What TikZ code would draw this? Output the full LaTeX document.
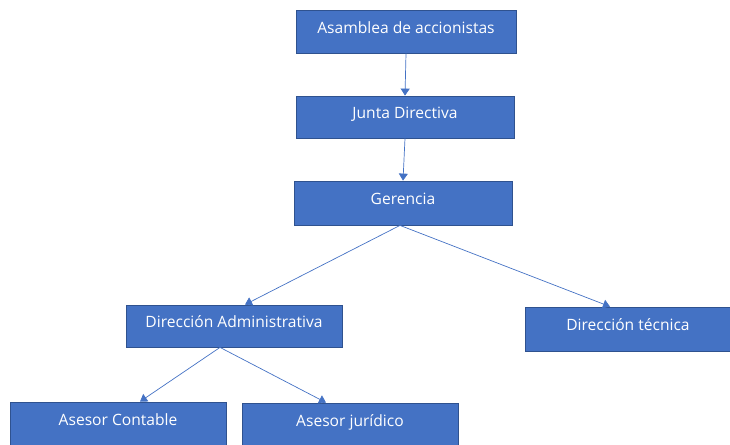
\documentclass[tikz,border=0pt]{standalone}
\usepackage{fontspec}
\setmainfont{Open Sans}
\usetikzlibrary{positioning,arrows.meta,calc}
\definecolor{boxblue}{HTML}{4472C4}
\definecolor{edgeblue}{HTML}{2F528F}

\begin{document}
\begin{tikzpicture}[
x=1pt, y=-1pt,
orgbox/.style={
  rectangle,
  fill=boxblue,
  draw=edgeblue,
  line width=0.8pt,
  text=white,
  font=\fontsize{15.6}{18}\selectfont,
  text height=12pt,
  text depth=8.5pt,
  inner sep=0pt},
orgarrow/.style={
  draw=boxblue,
  line width=0.7pt,
  -{Triangle[width=9pt,length=7pt]}}
]
\useasboundingbox (0,0) rectangle (730,444);
% upper chain
\node[orgbox, minimum width=220pt, minimum height=43pt] (asamblea) at (406,31.5) {Asamblea de accionistas};
\node[orgbox, minimum width=218pt, minimum height=42pt] (junta) at (405,117) {Junta Directiva};
\node[orgbox, minimum width=218pt, minimum height=44pt] (gerencia) at (403,203) {Gerencia};
% direcciones
\node[orgbox, minimum width=216pt, minimum height=42pt] (diradm) at (234,326) {Dirección Administrativa};
\node[orgbox, minimum width=206pt, minimum height=44pt] (dirtec) at (628,329) {Dirección técnica};
% asesores
\node[orgbox, minimum width=216pt, minimum height=44pt] (contable) at (118,424) {Asesor Contable};
\node[orgbox, minimum width=216pt, minimum height=44pt] (juridico) at (350,425) {Asesor jurídico};

\draw[orgarrow] (asamblea.south) -- (junta.north);
\draw[orgarrow] (junta.south) -- (gerencia.north);
\draw[orgarrow] ([xshift=-3pt]gerencia.south) -- ([xshift=11pt]diradm.north);
\draw[orgarrow] ([xshift=-3pt]gerencia.south) -- ([xshift=-18pt]dirtec.north);
\draw[orgarrow] ([xshift=-14pt]diradm.south) -- ([xshift=22pt]contable.north);
\draw[orgarrow] ([xshift=-14pt]diradm.south) -- ([xshift=-24pt]juridico.north);
\end{tikzpicture}
\end{document}
